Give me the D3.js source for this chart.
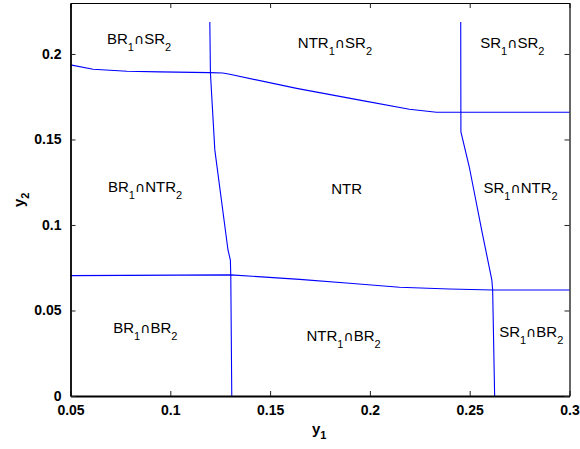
<!DOCTYPE html>
<html><head><meta charset="utf-8">
<script src="https://cdn.jsdelivr.net/npm/d3@7"></script>
<style>body{margin:0;background:#fff}svg{display:block}</style>
</head><body>
<script>
// Data
const xTicks = [0.05, 0.1, 0.15, 0.2, 0.25, 0.3];
const xTickLabels = ["0.05", "0.1", "0.15", "0.2", "0.25", "0.3"];
const yTicks = [0, 0.05, 0.1, 0.15, 0.2];
const yTickLabels = ["0", "0.05", "0.1", "0.15", "0.2"];

const upperBoundary = [[0.05,0.1936],[0.0613,0.1911],[0.0783,0.1899],[0.0948,0.1895],[0.1198,0.1891],[0.1263,0.1889],[0.1298,0.1881],[0.1633,0.1799],[0.1963,0.1727],[0.2198,0.1677],[0.2333,0.1659],[0.3,0.1659]];
const lowerBoundary = [[0.05,0.0704],[0.1303,0.0708],[0.1648,0.0682],[0.1898,0.0659],[0.2148,0.0636],[0.2398,0.0626],[0.2618,0.0620],[0.3,0.0620]];
const leftBoundary = [[0.1198,0.2187],[0.1201,0.1889],[0.1223,0.1439],[0.1289,0.0854],[0.1301,0.0795],[0.1303,0.0708],[0.1308,0]];
const rightBoundary = [[0.2455,0.2187],[0.2456,0.1544],[0.2498,0.1339],[0.2563,0.0953],[0.2611,0.0678],[0.2615,0.0620],[0.2625,0]];

const regionLabels = [
  {a:"BR", b:"SR", x:0.06825, y:0.2058},
  {a:"NTR", b:"SR", x:0.16390, y:0.2037},
  {a:"SR", b:"SR", x:0.25525, y:0.2035},
  {a:"BR", b:"NTR", x:0.06875, y:0.1193},
  {a:"NTR", b:null, x:0.18060, y:0.1181},
  {a:"SR", b:"NTR", x:0.25690, y:0.1185},
  {a:"BR", b:"BR", x:0.07140, y:0.0366},
  {a:"NTR", b:"BR", x:0.16825, y:0.0322},
  {a:"SR", b:"BR", x:0.26475, y:0.0343}
];

const W = 580, H = 449;
const m = {left:70.5, right:569.5, top:3, bottom:396};
const x = d3.scaleLinear().domain([0.05, 0.3]).range([m.left, m.right]);
const y = d3.scaleLinear().domain([0, 0.2298]).range([m.bottom, m.top]);

const svg = d3.select("body").append("svg").attr("width", W).attr("height", H)
  .style("font-family", "'Liberation Sans', Arial, Helvetica, sans-serif");

// Boundaries
const line = d3.line().x(d => x(d[0])).y(d => y(d[1]));
[upperBoundary, lowerBoundary, leftBoundary, rightBoundary].forEach(pts => {
  svg.append("path").attr("d", line(pts)).attr("fill", "none")
    .attr("stroke", "#0000ff").attr("stroke-width", 1.1);
});

// Axes (ticks inward, mirrored)
const tl = 5;
const bottomAxis = d3.axisBottom(x).tickValues(xTicks).tickFormat((d,i)=>xTickLabels[i]).tickSizeInner(-tl).tickSizeOuter(0).tickPadding(9);
const topAxis = d3.axisTop(x).tickValues(xTicks).tickFormat("").tickSizeInner(-tl).tickSizeOuter(0);
const leftAxis = d3.axisLeft(y).tickValues(yTicks).tickFormat((d,i)=>yTickLabels[i]).tickSizeInner(-tl).tickSizeOuter(0).tickPadding(9);
const rightAxis = d3.axisRight(y).tickValues(yTicks).tickFormat("").tickSizeInner(-tl).tickSizeOuter(0);

function style(g, sw){
  g.select(".domain").attr("stroke", "#000").attr("stroke-width", sw);
  g.selectAll(".tick line").attr("stroke", "#222").attr("stroke-width", 1);
  g.selectAll(".tick text").attr("fill", "#000").style("font-size", "14px").style("font-weight", "bold")
    .style("font-family", "'Liberation Sans', Arial, sans-serif");
}
svg.append("g").attr("transform", `translate(0,${m.bottom})`).call(bottomAxis).call(g=>style(g,1.8));
svg.append("g").attr("transform", `translate(0,${m.top})`).call(topAxis).call(g=>style(g,1.2));
svg.append("g").attr("transform", `translate(${m.left},0)`).call(leftAxis).call(g=>style(g,1.8));
svg.append("g").attr("transform", `translate(${m.right},0)`).call(rightAxis).call(g=>style(g,1.2));

// Axis labels
const xl = svg.append("text").attr("x", 312).attr("y", 434).attr("fill", "#000")
  .style("font-size", "15px").style("font-weight", "bold");
xl.append("tspan").text("y");
xl.append("tspan").attr("dy", 5).style("font-size", "11px").text("1");

const yl = svg.append("text").attr("transform", "translate(24,207) rotate(-90)").attr("fill", "#000")
  .style("font-size", "15px").style("font-weight", "bold");
yl.append("tspan").text("y");
yl.append("tspan").attr("dy", 5).style("font-size", "11px").text("2");

// Region labels
regionLabels.forEach(r => {
  const t = svg.append("text").attr("x", x(r.x)).attr("y", y(r.y)).attr("fill", "#000")
    .style("font-size", "15px");
  t.append("tspan").text(r.a);
  if (r.b) {
    t.append("tspan").attr("dy", 7).style("font-size", "11px").text("1");
    t.append("tspan").attr("dy", -7).style("font-family", "'DejaVu Sans', sans-serif").style("font-size", "14px").text("\u2229");
    t.append("tspan").text(r.b);
    t.append("tspan").attr("dy", 7).style("font-size", "11px").text("2");
  }
});
</script>
</body></html>
